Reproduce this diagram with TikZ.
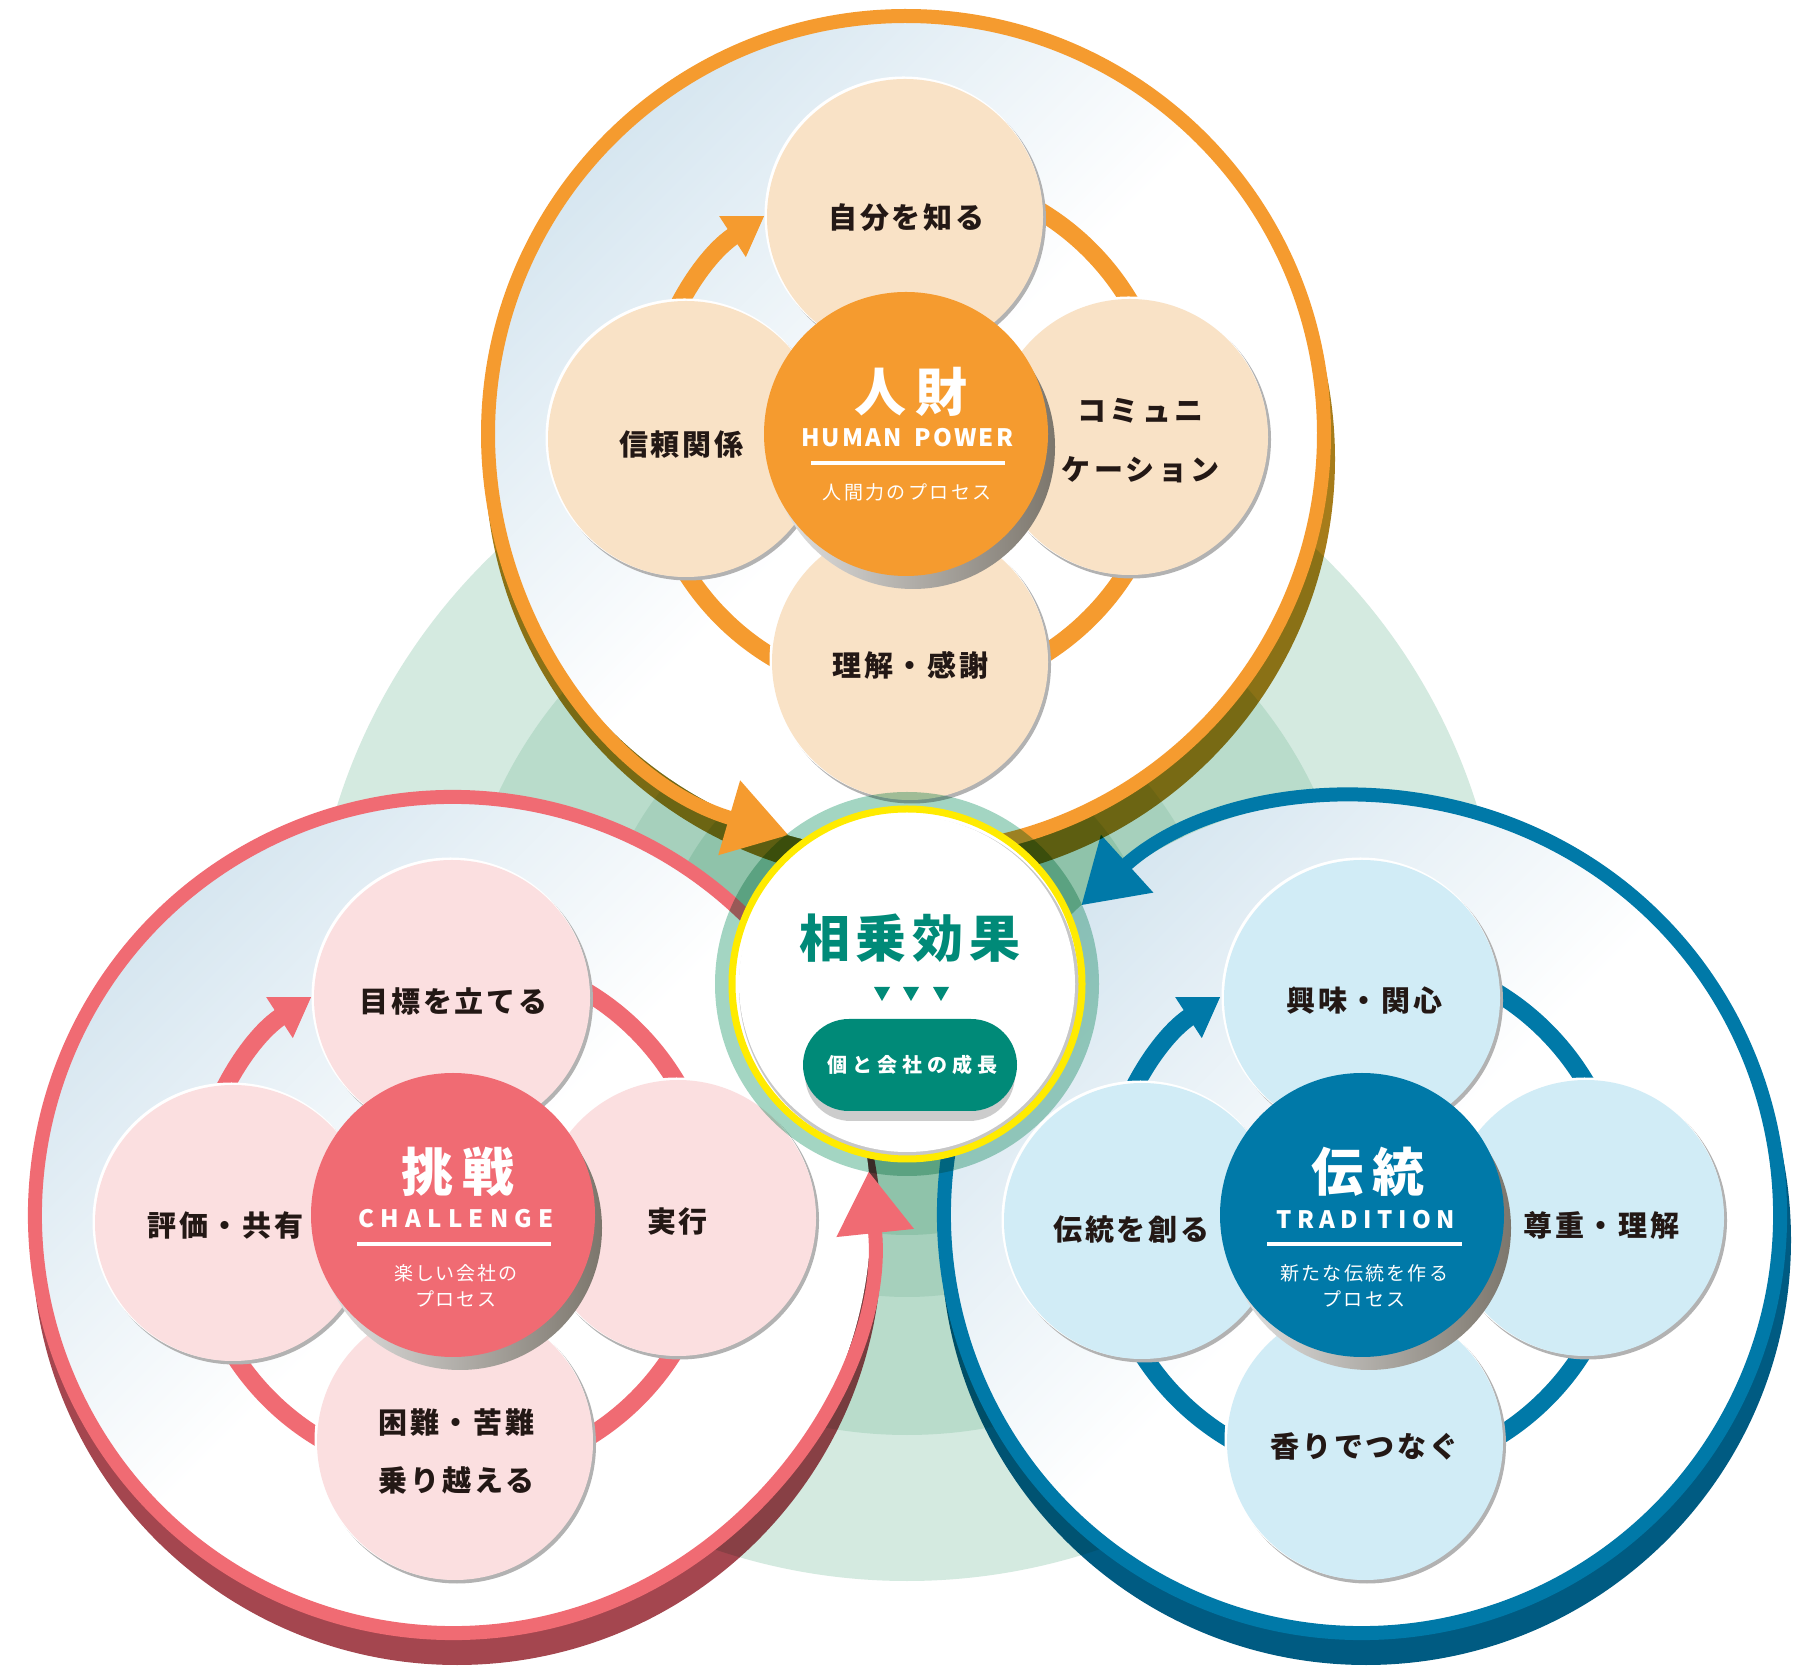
\documentclass[tikz,border=0pt]{standalone}
\usepackage{fontspec}
\setmainfont{Noto Sans CJK JP}
\usetikzlibrary{arrows.meta,calc}
\definecolor{orng}{HTML}{F59B2F}
\definecolor{orngpet}{HTML}{F9E2C6}
\definecolor{orngsh}{HTML}{A67C1A}
\definecolor{redc}{HTML}{F06B73}
\definecolor{redpet}{HTML}{FBDFE0}
\definecolor{redsh}{HTML}{A4464F}
\definecolor{bluec}{HTML}{0079A8}
\definecolor{bluepet}{HTML}{D1ECF6}
\definecolor{bluesh}{HTML}{005B82}
\definecolor{bgblue}{HTML}{D6E6F0}
\definecolor{bandA}{HTML}{D4EAE0}
\definecolor{bandB}{HTML}{B9DCCB}
\definecolor{bandC}{HTML}{A6D0BC}
\definecolor{bandD}{HTML}{8FC3AA}
\definecolor{ringgreen}{HTML}{A3D5C2}
\definecolor{yel}{HTML}{FFEB00}
\definecolor{tealc}{HTML}{008A78}
\definecolor{txtdark}{HTML}{231815}
\definecolor{shL}{HTML}{E4E4E4}
\definecolor{shR}{HTML}{7C766C}

\newcommand\lsp[2]{{\addfontfeature{LetterSpace=#1}#2}\kern-\dimexpr\fontdimen6\font*#1/100\relax}

\newcommand\bigring[5]{%
  \begin{scope}[blend mode=multiply]
    \fill[#3] ($(#1)+(4,-25)$) circle (425pt);
  \end{scope}
  \shade[top color=bgblue, bottom color=white, middle color=white, shading angle=45] (#1) circle (418pt);
  \draw[#2, line width=14pt, -{Triangle[width=74pt,length=62pt]}] ($(#1)+(#4:418pt)$) arc[start angle=#4, end angle=#5, radius=418pt];
}
\newcommand\smallring[2]{%
  \draw[#2, line width=18pt, -{Triangle[width=46pt,length=38pt]}] ($(#1)+(80:260pt)$) arc[start angle=80, end angle=-237, radius=260pt];
}
\newcommand\petal[3]{%
  \fill[black!30] (#1+2,#2-2.5) circle (139pt);
  \fill[white] (#1-1.5,#2+1.5) circle (139pt);
  \fill[#3] (#1,#2) circle (138pt);
}
\newcommand\hub[3]{%
  \shade[left color=shL, right color=shR] (#1+7,#2-13) circle (142pt);
  \fill[#3] (#1,#2) circle (142pt);
}

\begin{document}
\begin{tikzpicture}[x=1pt,y=1pt,
  lbl/.style={font=\fontsize{29}{34}\selectfont\bfseries, text=txtdark, inner sep=0pt},
  ttl/.style={font=\fontsize{52}{60}\selectfont\bfseries, text=white, inner sep=0pt},
  eng/.style={font=\fontsize{24}{28}\selectfont\bfseries, text=white, inner sep=0pt},
  subt/.style={font=\fontsize{19}{23}\selectfont, text=white, inner sep=0pt},
  uline/.style={white, line width=4.5pt}]
\useasboundingbox (0,0) rectangle (1799,1666);
\fill[white] (0,0) rectangle (1799,1666);
\coordinate (C) at (907,682);
\coordinate (O) at (906,1232);
\coordinate (R) at (453,451);
\coordinate (B) at (1362,451);

% background bands
\fill[bandA] (C) circle (597pt);
\fill[bandB] (C) circle (451pt);
\fill[bandC] (C) circle (313pt);
\fill[bandD] (C) circle (251pt);

% ===== red =====
\bigring{R}{redc}{redsh}{-333}{6.0}
\smallring{R}{redc}
\petal{452}{668}{redpet}
\petal{233}{443}{redpet}
\petal{678}{448}{redpet}
\petal{455}{224}{redpet}
\hub{453}{451}{redc}
\node[lbl] (r1) at (452,665) {\lsp{10}{目標を立てる}};
\node[lbl] (r2) at (224,441) {\lsp{10}{評価・共有}};
\node[lbl] (r3) at (676,444) {\lsp{10}{実行}};
\node[lbl] (r4) at (455,243) {\lsp{10}{困難・苦難}};
\node[lbl] (r5) at (455,186) {\lsp{10}{乗り越える}};
\node[ttl] (rt) at (453,494) {\lsp{18}{挑戦}};
\node[eng] (re) at (453,447) {\lsp{26}{CHALLENGE}};
\draw[uline] (357,422) -- (551,422);
\node[subt] (rs1) at (455,393) {\lsp{10}{楽しい会社の}};
\node[subt] (rs2) at (455,367) {\lsp{10}{プロセス}};

% ===== blue =====
\bigring{B}{bluec}{bluesh}{-207}{132.2}
\smallring{B}{bluec}
\petal{1362}{668}{bluepet}
\petal{1142}{445}{bluepet}
\petal{1586}{448}{bluepet}
\petal{1365}{224}{bluepet}
\hub{1362}{451}{bluec}
\node[lbl] (b1) at (1363,666) {\lsp{10}{興味・関心}};
\node[lbl] (b2) at (1130,436) {\lsp{10}{伝統を創る}};
\node[lbl] (b3) at (1600,441) {\lsp{10}{尊重・理解}};
\node[lbl] (b4) at (1363,220) {\lsp{10}{香りでつなぐ}};
\node[ttl] (bt) at (1363,494) {\lsp{18}{伝統}};
\node[eng] (be) at (1363,446) {\lsp{23}{TRADITION}};
\draw[uline] (1267,422) -- (1462,422);
\node[subt] (bs1) at (1363,393) {\lsp{12}{新たな伝統を作る}};
\node[subt] (bs2) at (1363,367) {\lsp{12}{プロセス}};

% ===== orange =====
\bigring{O}{orng}{orngsh}{-89.8}{253.7}
\smallring{O}{orng}
\petal{905}{1449}{orngpet}
\petal{686}{1227}{orngpet}
\petal{1130}{1229}{orngpet}
\petal{910}{1004}{orngpet}
\hub{906}{1232}{orng}
\node[lbl] (o1) at (905,1448) {\lsp{10}{自分を知る}};
\node[lbl] (o2) at (680,1221) {\lsp{10}{信頼関係}};
\node[lbl] (o3) at (1139,1255) {\lsp{12}{コミュニ}};
\node[lbl] (o4) at (1139,1196) {\lsp{12}{ケーション}};
\node[lbl] (o5) at (909,1001) {\lsp{10}{理解・感謝}};
\node[ttl] (ot) at (906,1274) {\lsp{18}{人財}};
\node[eng] (oe) at (906,1228) {\lsp{9}{HUMAN\hspace{5pt} POWER}};
\draw[uline] (811,1203) -- (1005,1203);
\node[subt] (os) at (906,1174) {\lsp{13}{人間力のプロセス}};

% ===== centre =====
\begin{scope}[blend mode=multiply]
  \fill[ringgreen, even odd rule] (C) circle (192pt) (C) circle (178pt);
\end{scope}
\fill[white] (C) circle (174pt);
\fill[black!22] ($(C)+(2,-3)$) circle (170pt);
\fill[white] (C) circle (168pt);
\draw[yel, line width=7pt] (C) circle (175pt);
\node[font=\fontsize{51}{56}\selectfont\bfseries, text=tealc, inner sep=0pt] (syn) at (907,728) {\lsp{11}{相乗効果}};
\fill[tealc] (874,679) -- (890,679) -- (882,665) -- cycle;
\fill[tealc] (903,679) -- (919,679) -- (911,665) -- cycle;
\fill[tealc] (933,679) -- (949,679) -- (941,665) -- cycle;
\fill[black!20, rounded corners=46pt] (805,545) rectangle (1015,637);
\fill[tealc, rounded corners=46pt] (803,555) rectangle (1017,647);
\node[font=\fontsize{20}{24}\selectfont\bfseries, text=white, inner sep=0pt] (pill) at (910,601) {\lsp{25}{個と会社の成長}};
\end{tikzpicture}
\end{document}
